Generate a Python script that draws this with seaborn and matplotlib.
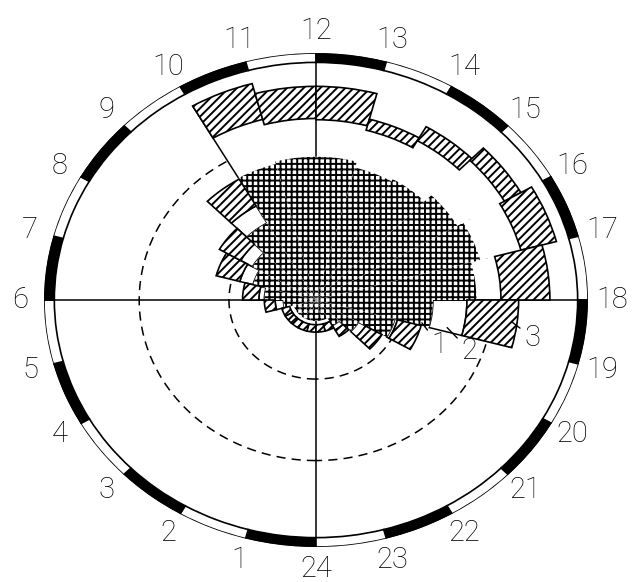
import numpy as np
import matplotlib.pyplot as plt
import seaborn as sns

sns.set_theme(style='white')
plt.rcParams['font.family'] = ['Roboto', 'DejaVu Sans']
plt.rcParams['hatch.linewidth'] = 1.4

# hour of day at the start of each sector (0 = 24 at the bottom)
hours = np.arange(24)

# outer radius of each stacked layer per hour (relative to the clock ring = 1)
grid_top = [0.085, 0.085, 0.085, 0.085, 0.085, 0.12, 0.19, 0.24, 0.27, 0.36, 0.57, 0.58,
            0.58, 0.555, 0.565, 0.60, 0.625, 0.59, 0.43, 0.30, 0.18, 0.12, 0.085, 0.085]
white_top = [0.10, 0.10, 0.10, 0.10, 0.10, 0.15, 0.21, 0.29, 0.32, 0.44, 0.757, 0.735,
             0.73, 0.712, 0.745, 0.80, 0.78, 0.68, 0.555, 0.31, 0.21, 0.14, 0.10, 0.10]
hatch_top = [0.13, 0.13, 0.13, 0.13, 0.13, 0.19, 0.27, 0.38, 0.41, 0.565, 0.907, 0.865,
             0.865, 0.758, 0.81, 0.87, 0.915, 0.86, 0.745, 0.40, 0.28, 0.17, 0.13, 0.13]

dashed_radii = [0.32, 0.65]
hour_labels = [str(h) for h in range(1, 25)]

# leader labels: (text, hour pointed at, radius pointed at, hour of text, radius of text)
callouts = [('1', 18.89, 0.40, 19.47, 0.49),
            ('2', 18.87, 0.495, 19.33, 0.60),
            ('3', 18.47, 0.726, 18.72, 0.81)]

theta = np.deg2rad(hours * 15)
width = np.deg2rad(15)

fig = plt.figure(figsize=(6.33, 5.82), dpi=100)
ax = fig.add_axes([0.0695, 0.0601, 0.8594, 0.8488], projection='polar')
ax.set_aspect('auto')
ax.set_theta_zero_location('S')
ax.set_theta_direction(-1)
ax.axis('off')

# dashed reference circles
t = np.linspace(0, 2 * np.pi, 500)
for r in dashed_radii:
    ax.plot(t, np.full_like(t, r), color='black', lw=1.1, ls=(0, (6, 4)), zorder=1)

# white middle layer
g = np.array(grid_top)
w = np.array(white_top)
hh = np.array(hatch_top)
white_edges = ['black' if (5 <= h <= 9 or 18 <= h <= 21) else 'none' for h in hours]
ax.bar(theta, w - g, bottom=g, width=width, align='edge', color='white',
       edgecolor=white_edges, lw=1.1, zorder=2)

# main axes of the clock
for ang in (0, 90, 180, 270):
    ax.plot([np.deg2rad(ang)] * 2, [0, 0.962], color='black', lw=1.1, zorder=3)
ax.plot([theta[10]] * 2, [grid_top[10], hatch_top[10]], color='black', lw=1.1, zorder=3)

# inner layer (grid) and outer layer (diagonal hatch)
ax.bar(theta, g, width=width, align='edge', color='white', edgecolor='black',
       lw=0, hatch='+++', zorder=4)
ax.bar(theta, hh - w, bottom=w, width=width, align='edge', color='white',
       edgecolor='black', lw=1.2, hatch='////', zorder=4)

# clock ring
ring_colors = ['black' if h % 2 == 0 else 'white' for h in hours]
ax.bar(theta, 0.038, bottom=0.962, width=width, align='edge', color=ring_colors,
       edgecolor='black', lw=1.2, zorder=5)

for i, lab in enumerate(hour_labels):
    ax.text(np.deg2rad((i + 1) * 15), 1.088, lab, ha='center', va='center',
            fontsize=21, fontweight='light', color='black')

for lab, h0, r0, h1, r1 in callouts:
    ax.annotate(lab, xy=(np.deg2rad(h0 * 15), r0), xytext=(np.deg2rad(h1 * 15), r1),
                ha='center', va='center', fontsize=21, fontweight='light',
                color='black', zorder=6,
                arrowprops=dict(arrowstyle='-', color='black', lw=1.0,
                                shrinkA=1, shrinkB=0))

ax.set_ylim(0, 1)
fig.savefig('out.png', dpi=100)
